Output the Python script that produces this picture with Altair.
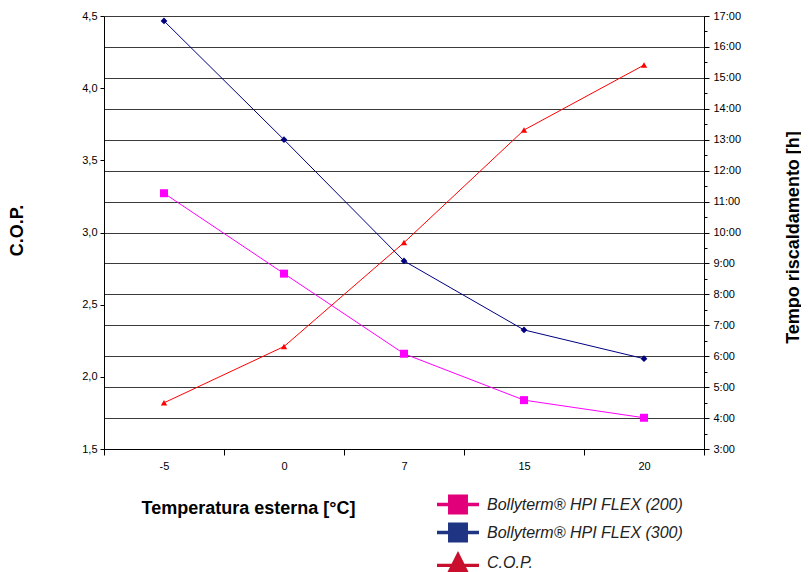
import altair as alt
import pandas as pd

# ---- data ----
temps = ["-5", "0", "7", "15", "20"]
cop_values = [1.82, 2.21, 2.93, 3.71, 4.16]
hpi200_hours = [11.27, 8.67, 6.08, 4.58, 4.01]
hpi300_hours = [16.84, 13.00, 9.08, 6.85, 5.92]
series_names = ["Bollyterm® HPI FLEX (200)", "Bollyterm® HPI FLEX (300)", "C.O.P."]
cop_ticks = [1.5, 2.0, 2.5, 3.0, 3.5, 4.0, 4.5]
hour_ticks = [h / 2 for h in range(6, 35)]  # 3:00 .. 17:00 every half hour

line_colors = ["#ff00ff", "#000080", "#ff0000"]
legend_colors = ["#e2007a", "#1f3583", "#c8102e"]

df_cop = pd.DataFrame({"temp": temps, "value": cop_values})
df_200 = pd.DataFrame({"temp": temps, "hours": hpi200_hours})
df_300 = pd.DataFrame({"temp": temps, "hours": hpi300_hours})
df_leg = pd.DataFrame({"series": series_names, "temp": [temps[0]] * 3, "value": [-50.0] * 3})

FONT = "Liberation Sans"
TITLE_FONT = "Liberation Sans"

x_enc = alt.X(
    "temp:N",
    sort=temps,
    scale=alt.Scale(type="band", paddingInner=0, paddingOuter=0),
    axis=alt.Axis(
        title="Temperatura esterna [°C]",
        labelAngle=0,
        tickBand="extent",
        tickSize=6,
        tickColor="black",
        domainColor="black",
        labelPadding=5,
        labelFont=FONT,
        labelFontSize=11,
        labelColor="black",
        titleFont=TITLE_FONT,
        titleFontSize=18,
        titleFontWeight="bold",
        titleColor="black",
        titleX=144,
        titleY=59,
        titleBaseline="middle",
        titleAlign="center",
        grid=False,
    ),
)

y_cop = alt.Y(
    "value:Q",
    scale=alt.Scale(domain=[1.5, 4.5], nice=False, zero=False),
    axis=alt.Axis(
        orient="left",
        title="C.O.P.",
        values=cop_ticks,
        labelExpr="replace(format(datum.value, '.1f'), '.', ',')",
        tickSize=4,
        tickColor="black",
        domainColor="black",
        labelPadding=3,
        labelFont=FONT,
        labelFontSize=11,
        labelColor="black",
        titleFont=TITLE_FONT,
        titleFontSize=18,
        titleFontWeight="bold",
        titleColor="black",
        titleAngle=270,
        titleX=-87,
        titleY=214,
        titleBaseline="middle",
        titleAlign="center",
        grid=False,
    ),
)

y_hours_axis = alt.Axis(
    orient="right",
    title="Tempo riscaldamento [h]",
    values=hour_ticks,
    labelExpr="datum.value % 1 == 0 ? floor(datum.value) + ':00' : ''",
    tickSize={"condition": {"test": "datum.value % 1 == 0", "value": 5}, "value": 3},
    tickColor="black",
    domainColor="black",
    labelPadding=4,
    labelFont=FONT,
    labelFontSize=11,
    labelColor="black",
    titleFont=TITLE_FONT,
    titleFontSize=18,
    titleFontWeight="bold",
    titleColor="black",
    titleAngle=270,
    titleX=89,
    titleY=221,
    titleBaseline="middle",
    titleAlign="center",
    grid=True,
    gridColor="#3a3a3a",
    gridWidth=1,
    gridOpacity={"condition": {"test": "datum.value % 1 == 0", "value": 1}, "value": 0},
)

def y_hours():
    return alt.Y("hours:Q", scale=alt.Scale(domain=[3, 17], nice=False, zero=False), axis=y_hours_axis)

# legend symbols: unit = 10.5 px (symbolSize 441); drawn from the entry's centre
sq_path = "M-1,-0.16H3V0.16H-1Z M0.05,-0.95H1.95V0.95H0.05Z"
tri_path = "M-1,0.12H3V0.42H-1Z M1,-1.1L2.1,1.1H-0.1Z"

def make_legend():
    return alt.Legend(
        title=None,
        orient="none",
        legendX=333,
        legendY=478,
        symbolSize=441,
        symbolStrokeWidth=0,
        labelFont=FONT,
        labelFontSize=16,
        labelFontStyle="italic",
        labelColor="#222222",
        labelOffset=29,
        rowPadding=7,
        padding=0,
        labelLimit=400,
    )

# COP group (left axis)
cop_line = alt.Chart(df_cop).mark_line(color=line_colors[2], strokeWidth=1).encode(x=x_enc, y=y_cop)
cop_pts = alt.Chart(df_cop).mark_point(
    shape="triangle-up", filled=True, color=line_colors[2], size=40, opacity=1
).encode(x=x_enc, y=y_cop)
legend_layer = alt.Chart(df_leg).mark_point(filled=True, clip=True, opacity=1).encode(
    x=x_enc,
    y=y_cop,
    color=alt.Color(
        "series:N",
        sort=series_names,
        scale=alt.Scale(domain=series_names, range=legend_colors),
        legend=make_legend(),
    ),
    shape=alt.Shape(
        "series:N",
        sort=series_names,
        scale=alt.Scale(domain=series_names, range=[sq_path, sq_path, tri_path]),
        legend=make_legend(),
    ),
)
cop_group = alt.layer(cop_line, cop_pts, legend_layer)

# heating-time group (right axis)
l200 = alt.Chart(df_200).mark_line(color=line_colors[0], strokeWidth=1).encode(x=x_enc, y=y_hours())
p200 = alt.Chart(df_200).mark_point(
    shape="square", filled=True, color=line_colors[0], size=64, opacity=1
).encode(x=x_enc, y=y_hours())
l300 = alt.Chart(df_300).mark_line(color=line_colors[1], strokeWidth=1).encode(x=x_enc, y=y_hours())
p300 = alt.Chart(df_300).mark_point(
    shape="diamond", filled=True, color=line_colors[1], size=45, opacity=1
).encode(x=x_enc, y=y_hours())
time_group = alt.layer(l200, l300, p200, p300)

chart = (
    alt.layer(time_group, cop_group)
    .resolve_scale(y="independent")
    .properties(
        width=600,
        height=433,
        autosize=alt.AutoSizeParams(type="none"),
        padding={"left": 96, "top": 8, "right": 97, "bottom": 123},
        background="white",
    )
    .configure_view(stroke=None)
)

chart.save("out.html", embed_options={"renderer": "svg", "actions": False})
